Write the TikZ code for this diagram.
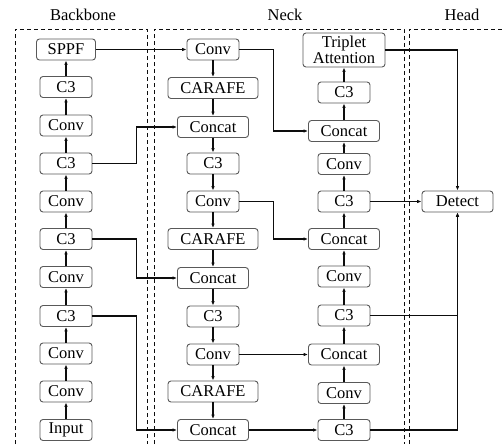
\documentclass[tikz,border=0pt]{standalone}
\usepackage{fontspec}
\setmainfont{Liberation Serif}
\usetikzlibrary{arrows.meta}
\definecolor{ink}{gray}{0.05}
\definecolor{frame}{gray}{0.35}

\begin{document}
\begin{tikzpicture}[x=1pt,y=-1pt,line width=1.1pt,
   blk/.style={rounded corners=3pt, draw=frame, line width=0.9pt, minimum width=52pt, minimum height=21pt, inner sep=0pt, font=\fontsize{16.5}{17}\selectfont},
   wide/.style={blk, minimum width=71pt},
   ar/.style={draw=ink, -{Latex[length=4.5pt,width=3.6pt]}},
   zone/.style={draw=ink, dash pattern=on 4pt off 3pt, line width=0.9pt},
   ttl/.style={font=\fontsize{16.5}{17}\selectfont}]
  \useasboundingbox (0,0) rectangle (502,444);
  % zones
  \draw[zone] (15,444) -- (15,29) -- (147,29) -- (147,444);
  \draw[zone] (154,444) -- (154,29) -- (404,29) -- (404,444);
  \draw[zone] (409,444) -- (409,29) -- (502,29);
  \node[ttl](tb) at (83,15){Backbone};
  \node[ttl](tn) at (285,15){Neck};
  \node[ttl](th) at (462,15){Head};
  % backbone
  \node[blk](bin) at (66,430){Input};
  \node[blk](bcv1) at (66,391.5){Conv};
  \node[blk](bcv2) at (66,353.5){Conv};
  \node[blk](bc31) at (66,316){C3};
  \node[blk](bcv3) at (66,277){Conv};
  \node[blk](bc32) at (66,239){C3};
  \node[blk](bcv4) at (66,201.5){Conv};
  \node[blk](bc33) at (66,163.5){C3};
  \node[blk](bcv5) at (66,125.5){Conv};
  \node[blk](bc34) at (66,87){C3};
  \node[blk, minimum width=59pt](sppf) at (66,49.5){SPPF};
  \draw[ar] (bin)--(bcv1); \draw[ar] (bcv1)--(bcv2); \draw[ar] (bcv2)--(bc31);
  \draw[ar] (bc31)--(bcv3); \draw[ar] (bcv3)--(bc32); \draw[ar] (bc32)--(bcv4);
  \draw[ar] (bcv4)--(bc33); \draw[ar] (bc33)--(bcv5); \draw[ar] (bcv5)--(bc34);
  \draw[ar] (bc34)--(sppf);
  % neck, top-down path
  \node[blk](nconv1) at (213,49.5){Conv};
  \node[blk, minimum width=90pt](ncar1) at (213,88){CARAFE};
  \node[wide](ncat1) at (213,127){Concat};
  \node[blk](nc31) at (213,163.5){C3};
  \node[blk](nconv2) at (213,201.5){Conv};
  \node[blk, minimum width=90pt](ncar2) at (213,239){CARAFE};
  \node[wide](ncat2) at (213,278){Concat};
  \node[blk](nc32) at (213,316.5){C3};
  \node[blk](nconv3) at (213,354.5){Conv};
  \node[blk, minimum width=90pt](ncar3) at (213,391.5){CARAFE};
  \node[wide](ncat3) at (213,430){Concat};
  \draw[ar] (nconv1)--(ncar1); \draw[ar] (ncar1)--(ncat1); \draw[ar] (ncat1)--(nc31);
  \draw[ar] (nc31)--(nconv2); \draw[ar] (nconv2)--(ncar2); \draw[ar] (ncar2)--(ncat2);
  \draw[ar] (ncat2)--(nc32); \draw[ar] (nc32)--(nconv3); \draw[ar] (nconv3)--(ncar3);
  \draw[ar] (ncar3)--(ncat3);
  % neck, bottom-up path
  \node[blk](rc34) at (344,430){C3};
  \node[blk](rconv3) at (344,393){Conv};
  \node[wide](rcat3) at (344,354.5){Concat};
  \node[blk](rc33) at (344,315.5){C3};
  \node[blk](rconv2) at (344,276.5){Conv};
  \node[wide](rcat2) at (344,239){Concat};
  \node[blk](rc32) at (344,201.5){C3};
  \node[blk](rconv1) at (344,164){Conv};
  \node[wide](rcat1) at (344,131){Concat};
  \node[blk](rc31) at (344,92.5){C3};
  \node[blk, minimum width=82pt, minimum height=34pt, align=center, font=\fontsize{16.5}{13.5}\selectfont](trip) at (344,50){Triplet\\Attention};
  \draw[ar] (rc34)--(rconv3); \draw[ar] (rconv3)--(rcat3); \draw[ar] (rcat3)--(rc33);
  \draw[ar] (rc33)--(rconv2); \draw[ar] (rconv2)--(rcat2); \draw[ar] (rcat2)--(rc32);
  \draw[ar] (rc32)--(rconv1); \draw[ar] (rconv1)--(rcat1); \draw[ar] (rcat1)--(rc31);
  \draw[ar] (rc31)--(trip);
  % head
  \node[wide](det) at (457.5,201.5){Detect};
  % cross links
  \draw[ar] (sppf)--(nconv1);
  \draw[ar] (bc33.east) -- ++(44,0) |- (ncat1.west);
  \draw[ar] (bc32.east) -- ++(44,0) |- (ncat2.west);
  \draw[ar] (bc31.east) -- ++(44,0) |- (ncat3.west);
  \draw[ar] (nconv1.east) -- ++(34,0) |- (rcat1.west);
  \draw[ar] (nconv2.east) -- ++(34,0) |- (rcat2.west);
  \draw[ar] (nconv3)--(rcat3);
  \draw[ar] (ncat3)--(rc34);
  \draw[ar] (trip.east) -| (det.north);
  \draw[ar] (rc32)--(det);
  \draw[ar] (rc33.east) -| (det.south);
  \draw[ar] (rc34.east) -| (det.south);
\end{tikzpicture}
\end{document}
